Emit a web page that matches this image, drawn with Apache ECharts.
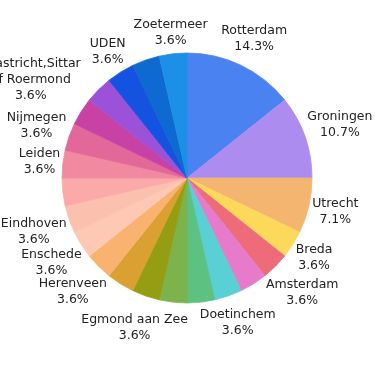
<!DOCTYPE html>
<html>
<head>
<meta charset="utf-8">
<script src="https://cdn.jsdelivr.net/npm/echarts@6/dist/echarts.min.js"></script>
<style>html,body{margin:0;padding:0;background:#fff;}#c{width:375px;height:366px;}</style>
</head>
<body>
<div id="c"></div>
<script>
// Categories in clockwise order from 12 o'clock (unlabelled slices have hidden labels in the reference)
const categories = ['Rotterdam','Groningen','Utrecht','Breda','Amsterdam','Overig 1','Doetinchem','Overig 2','Overig 3','Egmond aan Zee','Overig 4','Herenveen','Enschede','Eindhoven','Overig 5','Leiden','Nijmegen','Maastricht,Sittar of Roermond','Overig 6','UDEN','Overig 7','Zoetermeer'];
const values = [4,3,2,1,1,1,1,1,1,1,1,1,1,1,1,1,1,1,1,1,1,1];
const labelVisible = [1,1,1,1,1,0,1,0,0,1,0,1,1,1,0,1,1,1,0,1,0,1];
const colors = ['#4a82f2','#ad8cf0','#f3b56f','#fdd95b','#ee6b7a','#e67bcc','#58d0d4','#5dc281','#7db34d','#959e12','#dba032','#f9b270','#fec9b4','#fcc0ae','#fca9a9','#f18aa0','#e2689a','#c842a6','#9b52d8','#1452e0','#0e6ad0','#1b90e6'];

const CX = 187, CY = 178, R = 125;
const total = values.reduce((a,b)=>a+b,0);
const font = 'DejaVu Sans';

const chart = echarts.init(document.getElementById('c'), null, {renderer:'canvas'});

const pieData = categories.map((n,i)=>({name:n, value:values[i], itemStyle:{color:colors[i], borderColor:colors[i], borderWidth:0.8}}));
const labelData = categories.map((n,i)=>{
  const item = {name:n, value:values[i], itemStyle:{color:'rgba(0,0,0,0)'}};
  if (!labelVisible[i]) item.label = {show:false};
  else if (n.length > 20) item.label = {width:108, overflow:'break'};
  return item;
});

chart.setOption({
  animation:false,
  series:[
    {
      type:'pie', center:[CX,CY], radius:[0,R], startAngle:90, clockwise:true,
      data:pieData, label:{show:false}, labelLine:{show:false},
      emphasis:{disabled:true}, silent:true
    },
    {
      type:'pie', center:[CX,CY], radius:[R+10,R+40], startAngle:90, clockwise:true,
      data:labelData, silent:true, emphasis:{disabled:true},
      itemStyle:{borderWidth:0}, labelLine:{show:false},
      label:{
        show:true, position:'inside', color:'#222', fontFamily:font, fontSize:12.5,
        lineHeight:16, align:'center',
        formatter:(p)=> p.name + '\n' + (p.value/total*100).toFixed(1) + '%'
      },
      labelLayout:(p)=>{
        const r = p.labelRect;
        const lx = r.x + r.width/2, ly = r.y + r.height/2;
        const dx = lx - CX, dy = ly - CY;
        const d = Math.hypot(dx,dy) || 1;
        const ux = dx/d, uy = dy/d;
        const proj = Math.abs(ux)*r.width/2 + Math.abs(uy)*r.height/2;
        const dist = R + 1 + proj;
        return {x: CX + ux*dist, y: CY + uy*dist, align:'center', verticalAlign:'middle'};
      }
    }
  ]
});
</script>
</body>
</html>
